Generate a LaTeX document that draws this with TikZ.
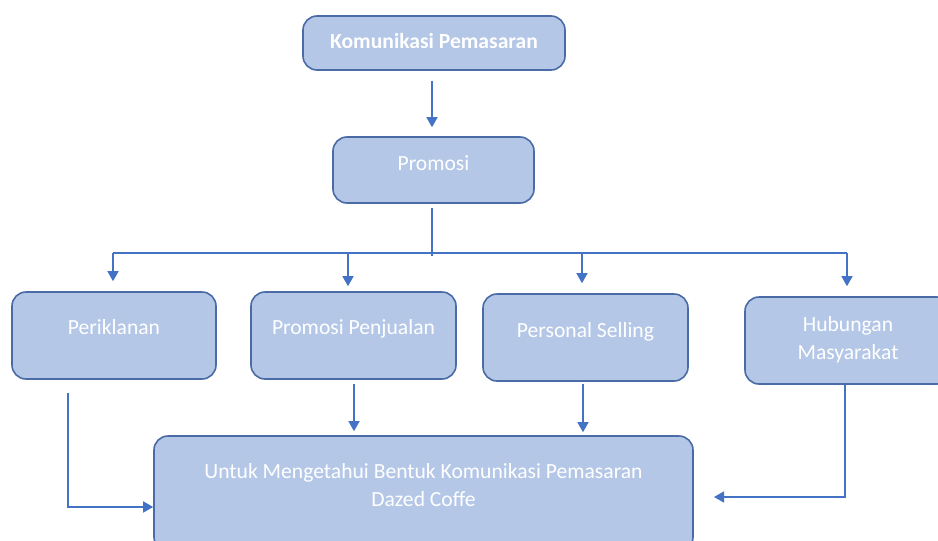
\documentclass[tikz,border=0pt]{standalone}
\usepackage{fontspec}
\setmainfont{Carlito}
\usetikzlibrary{arrows.meta}
\definecolor{boxfill}{HTML}{B4C7E7}
\definecolor{boxline}{HTML}{4B6BA6}
\definecolor{conn}{HTML}{4472C4}
\begin{document}
\begin{tikzpicture}[x=0.5pt,y=-0.5pt,
  box/.style={draw=boxline, fill=boxfill, line width=0.8pt, rounded corners=7pt, inner sep=0pt},
  lbl/.style={text=white, font=\fontsize{10.8}{13.7}\selectfont, align=center, inner sep=0pt, anchor=base},
  ln/.style={draw=conn, line width=0.75pt},
  arr/.style={draw=conn, line width=0.75pt, -{Triangle[width=5.5pt,length=5pt]}}]
\useasboundingbox (0,0) rectangle (938,541);
\clip (0,0) rectangle (938,541);
% boxes
\node[box, minimum width=131pt, minimum height=27pt] (top) at (434,43) {};
\node[lbl, font=\fontsize{10.8}{13.7}\selectfont\bfseries] (toptxt) at (434,48) {Komunikasi Pemasaran};
\node[box, minimum width=100.5pt, minimum height=33pt] (pro) at (433.5,170) {};
\node[lbl] (protxt) at (433.5,170) {Promosi};
\node[box, minimum width=102pt, minimum height=43.5pt] (per) at (114,335.5) {};
\node[lbl] (pertxt) at (114,334) {Periklanan};
\node[box, minimum width=102.5pt, minimum height=43.5pt] (pp) at (353.5,335.5) {};
\node[lbl] (pptxt) at (353.5,334) {Promosi Penjualan};
\node[box, minimum width=102.5pt, minimum height=43.5pt] (ps) at (585.5,337.5) {};
\node[lbl] (pstxt) at (585.5,337) {Personal Selling};
\node[box, minimum width=103pt, minimum height=43.5pt] (hm) at (848,340.5) {};
\node[lbl] (hmtxt) at (848,359) {Hubungan\\Masyarakat};
\node[box, minimum width=269.5pt, minimum height=57.5pt] (bot) at (423.5,493.5) {};
\node[lbl] (bottxt) at (423.5,506) {Untuk Mengetahui Bentuk Komunikasi Pemasaran\\Dazed Coffe};
% connectors
\coordinate (hub) at (432,253);
\coordinate (b1) at (113,253);
\coordinate (b2) at (348,253);
\coordinate (b3) at (582,253);
\coordinate (b4) at (847,253);
\coordinate (d2) at (354,0);
\coordinate (d3) at (583,0);
\coordinate (c1) at (68,507);
\coordinate (c4) at (845,497);
\coordinate (e4) at (714,497);
\draw[arr, shorten <=5pt, shorten >=4.5pt] (top.south -| hub) -- (pro.north -| hub);
\draw[ln, shorten <=2pt] (pro.south -| hub) -- ([yshift=-1.5pt]hub);
\draw[ln] (b1) -- (b4);
\draw[arr, shorten >=5pt] (b1) -- (b1 |- per.north);
\draw[arr, shorten >=2.5pt] (b2) -- (b2 |- pp.north);
\draw[arr, shorten >=5pt] (b3) -- (b3 |- ps.north);
\draw[arr, shorten >=5pt] (b4) -- (b4 |- hm.north);
\draw[arr, shorten <=6.5pt] (per.south -| c1) -- (c1) -- (c1 -| bot.west);
\draw[arr, shorten <=2pt, shorten >=2pt] (pp.south -| d2) -- (d2 |- bot.north);
\draw[arr, shorten <=1pt, shorten >=1.5pt] (ps.south -| d3) -- (d3 |- bot.north);
\draw[arr] (hm.south -| c4) -- (c4) -- (e4);
\end{tikzpicture}
\end{document}
